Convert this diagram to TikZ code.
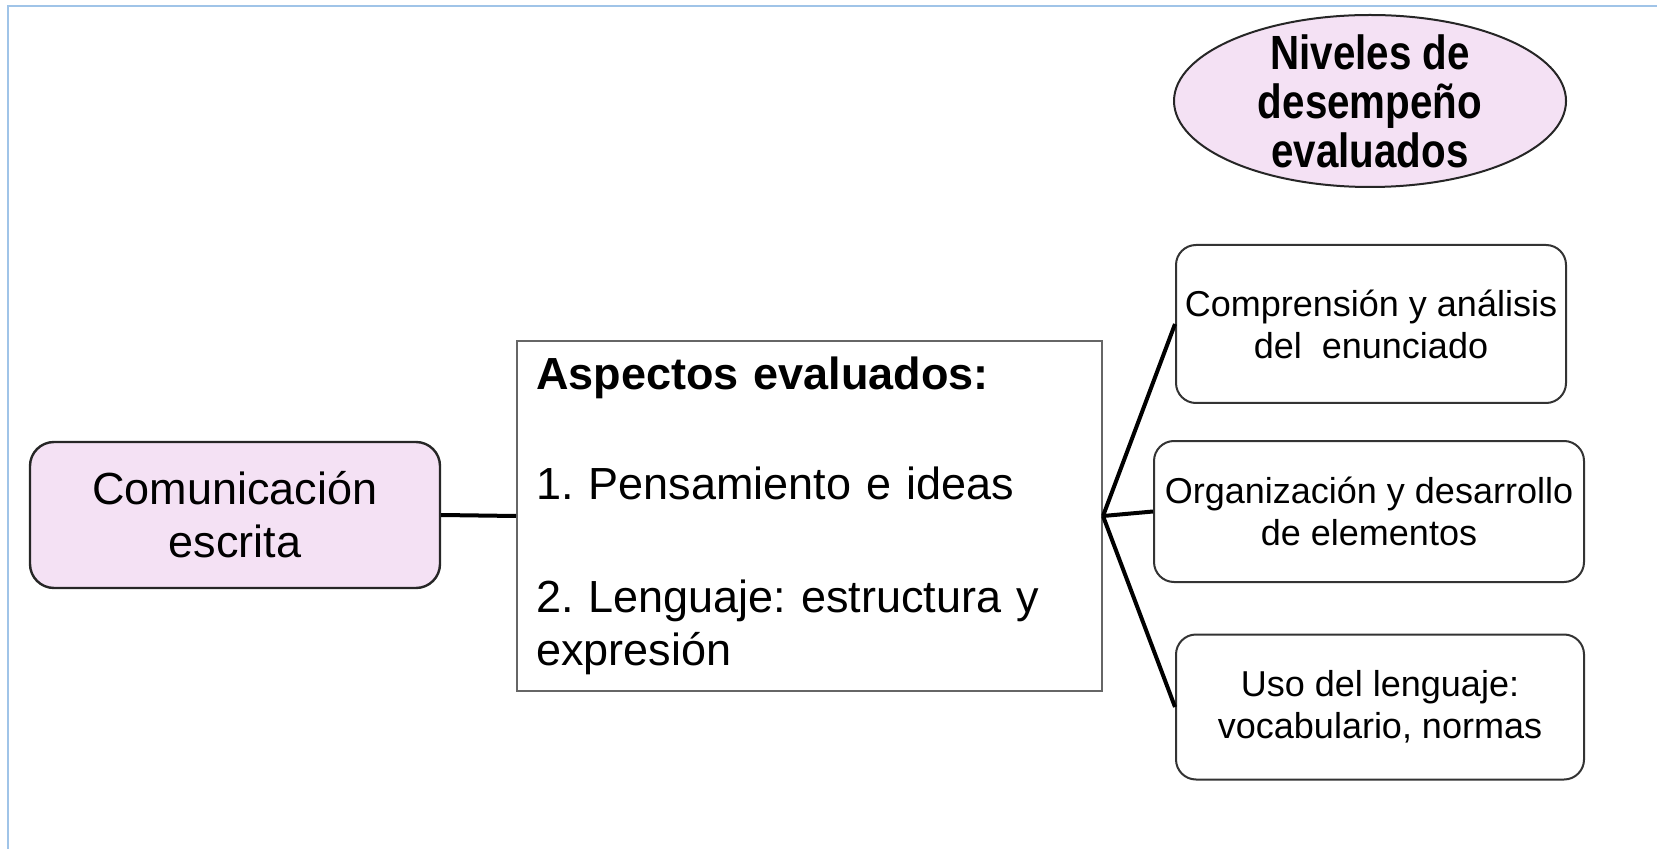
\documentclass[tikz,border=0pt]{standalone}
\usepackage{fontspec}
\setmainfont{Liberation Sans}
\newfontfamily\ovalfont[FakeStretch=0.84]{Liberation Sans}
\usetikzlibrary{shapes.geometric}
\definecolor{rosa}{RGB}{244,225,244}
\definecolor{marco}{RGB}{160,196,232}
\frenchspacing

\begin{document}
\begin{tikzpicture}[x=0.5pt, y=-0.5pt, line width=1pt,
    caja/.style={draw=black!80, rounded corners=10pt, align=center, inner sep=0pt,
        font=\fontsize{18}{21}\selectfont},
    enlace/.style={line width=2pt}]
        \useasboundingbox (0,0) rectangle (1657,849);
        % 边框
        \draw[marco] (8,849) -- (8,6) -- (1657,6);

        % 左侧方框
        \node[draw=black!85, line width=1.2pt, fill=rosa, rounded corners=12pt, minimum width=205pt, minimum height=73pt,
            align=center, font=\fontsize{22.5}{26.5}\selectfont] (com) at (235,515) {Comunicación\\escrita};

        % 中间方框
        \node[draw=black!60, minimum width=292.5pt, minimum height=174.5pt, text width=273.5pt,
            inner xsep=9.5pt, align=left, font=\fontsize{22.5}{26.5}\selectfont] (asp) at (809.5,516)
            {\textbf{Aspectos evaluados:}\\[28.5pt]1. Pensamiento e ideas\\[30pt]2. Lenguaje: estructura y\\expresión};

        % 椭圆
        \node[ellipse, draw=black!85, fill=rosa, minimum width=196pt, minimum height=86pt, inner sep=0pt,
            label={[align=center, font=\ovalfont\bfseries\fontsize{24}{24.5}\selectfont]center:Niveles de\\desempeño\\evaluados}]
            (niv) at (1370,101) {};

        % 右侧三个圆角框
        \node[caja, minimum width=195pt, minimum height=79pt] (c1) at (1371,324) {Comprensión y análisis\\del\ \ enunciado};
        \node[caja, minimum width=215pt, minimum height=70.5pt] (c2) at (1369,511.5) {Organización y desarrollo\\de elementos};
        \node[caja, minimum width=204pt, minimum height=72.5pt] (c3) at (1380,707) {Uso del lenguaje:\\vocabulario, normas};

        % 连线
        \draw[enlace] (com.east) -- (asp.west);
        \draw[enlace] (asp.east) -- (c1.west);
        \draw[enlace] (asp.east) -- (c2.west);
        \draw[enlace] (asp.east) -- (c3.west);
    \end{tikzpicture}
\end{document}
